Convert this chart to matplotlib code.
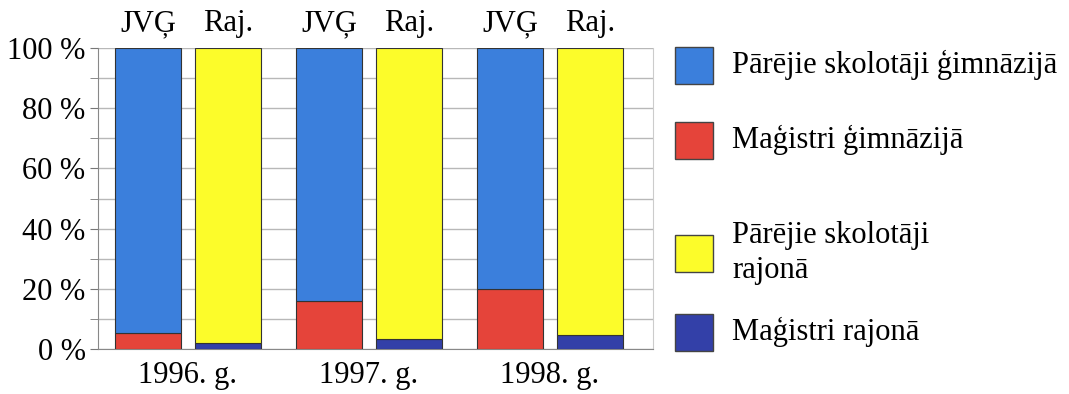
import matplotlib.pyplot as plt
import numpy as np
from matplotlib.patches import Rectangle

plt.rcParams['font.family'] = ['Liberation Serif', 'DejaVu Serif']

# data
years = ['1996. g.', '1997. g.', '1998. g.']
magistri_gimn = [5.3, 16.0, 20.0]
magistri_raj = [2.1, 3.2, 4.5]
parejie_gimn = [100 - v for v in magistri_gimn]
parejie_raj = [100 - v for v in magistri_raj]
bar_labels = ['JVĢ', 'Raj.']
legend_labels = ['Pārējie skolotāji ģimnāzijā', 'Maģistri ģimnāzijā',
                 'Pārējie skolotāji\nrajonā', 'Maģistri rajonā']

c_blue = '#3b7fdc'
c_red = '#e5443a'
c_yellow = '#fcfc2a'
c_navy = '#3340a8'
legend_colors = [c_blue, c_red, c_yellow, c_navy]
legend_y = [65, 140, 253, 332]  # pixel centres of legend squares

W, H = 1069, 394
fig = plt.figure(figsize=(W / 100, H / 100), dpi=100)
ax = fig.add_axes([98 / W, 1 - 349 / H, 555 / W, 301 / H])

grp = np.arange(len(years))
off = 0.442
w = 0.365
x_j = grp
x_r = grp + off

ax.bar(x_j, magistri_gimn, w, color=c_red, edgecolor='#333333', lw=0.8, zorder=3)
ax.bar(x_j, parejie_gimn, w, bottom=magistri_gimn, color=c_blue,
       edgecolor='#333333', lw=0.8, zorder=3)
ax.bar(x_r, magistri_raj, w, color=c_navy, edgecolor='#333333', lw=0.8, zorder=3)
ax.bar(x_r, parejie_raj, w, bottom=magistri_raj, color=c_yellow,
       edgecolor='#333333', lw=0.8, zorder=3)

ax.set_xlim(-0.276, 2.79)
ax.set_ylim(0, 100)
ax.set_yticks(np.arange(0, 101, 20))
ax.set_yticklabels([f'{v} %' for v in range(0, 101, 20)], fontsize=22)
ax.set_yticks(np.arange(0, 101, 10), minor=True)
ax.yaxis.grid(True, which='both', color='#b8b8b8', lw=1.0, zorder=0)
ax.tick_params(axis='y', which='both', length=6, color='#777777', pad=3)
ax.set_xticks(grp + off / 2)
ax.set_xticklabels(years, fontsize=22)
ax.tick_params(axis='x', length=0, pad=9)
ax.spines['top'].set_visible(False)
ax.spines['left'].set_color('#888888')
ax.spines['bottom'].set_color('#888888')
ax.spines['right'].set_color('#cccccc')

for xj, xr in zip(x_j, x_r):
    ax.text(xj, 105.5, bar_labels[0], ha='center', va='baseline', fontsize=22)
    ax.text(xr, 105.5, bar_labels[1], ha='center', va='baseline', fontsize=22)

# legend drawn by hand to match the uneven spacing
for col, lab, yc in zip(legend_colors, legend_labels, legend_y):
    fig.patches.append(Rectangle((675 / W, 1 - (yc + 18.5) / H), 38 / W, 37 / H,
                                 transform=fig.transFigure, facecolor=col,
                                 edgecolor='#444444', lw=1.0))
    fig.text(732 / W, 1 - yc / H, lab, ha='left', va='center', fontsize=22,
             linespacing=1.25)

fig.savefig('out.png', dpi=100)
